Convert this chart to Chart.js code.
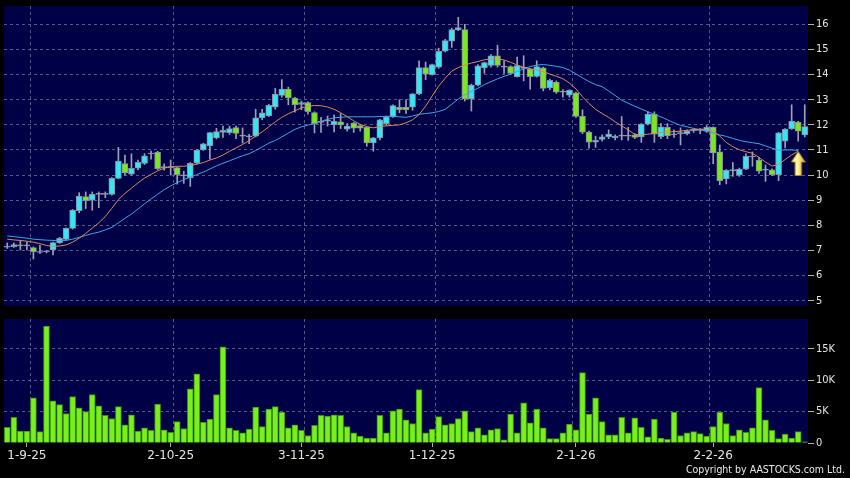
<!DOCTYPE html>
<html><head><meta charset="utf-8">
<script src="https://cdn.jsdelivr.net/npm/chart.js@4/dist/chart.umd.min.js"></script>
<style>
html,body{margin:0;padding:0;background:#000;width:850px;height:478px;overflow:hidden}
#wrap{position:relative;width:850px;height:478px;background:#000}
#c1{position:absolute;left:0;top:0;width:850px;height:310px}
#c2{position:absolute;left:0;top:310px;width:850px;height:168px}
#copy{position:absolute;right:5px;top:463px;color:#e8e8e8;font:10.5px "DejaVu Sans Condensed","DejaVu Sans",sans-serif;white-space:nowrap}
</style></head><body>
<div id="wrap">
<canvas id="c1" width="850" height="310"></canvas>
<canvas id="c2" width="850" height="168"></canvas>
<div id="copy">Copyright by AASTOCKS.com Ltd.</div>
</div>
<script>
// ---- data ----
const openP = [7.13,7.15,7.18,7.18,7.12,6.92,6.95,7.02,7.31,7.44,
7.88,8.58,9.14,9.0,9.23,9.23,9.23,9.87,10.46,10.04,
10.28,10.46,10.84,10.92,10.3,10.3,10.3,9.97,9.89,10.47,
11.0,11.16,11.48,11.7,11.69,11.89,11.55,11.52,11.55,12.28,
12.36,12.7,13.17,13.42,13.07,12.81,12.89,12.49,12.1,12.15,
12.0,12.12,11.83,12.07,11.97,11.9,11.28,11.48,12.05,12.32,
12.7,12.7,12.7,13.23,14.28,14.0,14.3,14.93,15.33,15.78,
15.79,13.03,13.58,14.27,14.37,14.75,14.3,14.32,13.92,14.25,
14.22,13.93,14.27,13.47,13.7,13.3,13.18,13.27,12.34,11.71,
11.31,11.42,11.52,11.48,11.55,11.55,11.6,11.52,12.03,12.43,
11.53,11.9,11.6,11.65,11.65,11.77,11.78,11.75,11.9,10.93,
9.85,10.17,10.0,10.24,10.72,10.6,10.2,10.21,10.02,11.35,
11.84,12.11,11.6];
const highP = [7.3,7.3,7.4,7.33,7.14,7.2,7.0,7.33,7.52,7.9,
8.63,9.3,9.33,9.33,9.33,9.33,9.9,11.1,10.8,10.85,
10.6,10.85,10.96,10.95,10.45,10.6,10.32,10.15,10.5,11.02,
11.27,11.7,11.86,11.95,11.95,11.95,11.88,11.62,12.62,12.62,
12.82,13.45,13.8,13.5,13.1,12.95,12.92,12.52,12.3,12.35,
12.4,12.45,12.05,12.1,12.0,11.92,11.5,12.22,12.35,12.8,
13.0,13.0,13.25,14.55,14.5,14.42,15.05,15.4,15.85,16.28,
16.0,13.62,14.4,14.5,14.8,15.17,14.55,14.35,14.7,14.75,
14.25,14.55,14.3,13.82,13.75,13.4,13.4,13.3,12.6,11.75,
11.55,11.6,11.8,11.6,12.33,11.9,11.65,12.05,12.52,12.52,
12.05,12.05,11.8,11.88,11.8,11.85,11.85,11.97,11.92,11.2,
10.22,10.5,10.28,10.85,10.92,10.7,10.4,10.25,11.7,11.85,
12.8,12.14,12.8];
const lowP = [7.08,7.12,7.02,7.02,6.66,6.88,6.9,6.82,7.28,7.42,
7.85,8.5,8.67,8.6,8.7,9.1,9.2,9.85,10.0,10.0,
10.22,10.42,10.63,10.22,10.2,10.0,9.64,9.67,9.55,10.45,
10.98,10.63,11.44,11.5,11.62,11.45,11.27,11.25,11.52,12.2,
12.33,12.62,13.1,12.8,12.5,12.6,12.42,11.68,11.7,11.95,
11.72,11.85,11.75,11.7,11.75,11.15,10.95,11.4,11.98,12.3,
12.48,12.45,12.58,13.2,13.8,13.98,14.25,14.9,15.08,15.75,
12.95,12.55,13.55,14.05,14.3,14.3,14.05,14.0,13.9,13.75,
13.42,13.9,13.35,13.4,13.25,13.1,13.1,12.3,11.65,11.07,
11.1,11.35,11.45,11.4,11.4,11.38,11.45,11.3,12.0,11.3,
11.45,11.45,11.5,11.2,11.6,11.7,11.65,11.7,10.45,9.62,
9.65,9.95,9.95,10.22,10.35,10.07,9.75,9.98,9.78,11.08,
11.82,11.35,11.52];
const closeP = [7.13,7.23,7.18,7.18,6.95,6.92,6.95,7.31,7.48,7.88,
8.61,9.16,8.98,9.23,9.23,9.23,9.87,10.56,10.09,10.27,
10.51,10.77,10.84,10.26,10.3,10.3,10.02,9.97,10.47,11.0,
11.24,11.69,11.73,11.78,11.85,11.66,11.55,11.52,12.28,12.48,
12.78,13.22,13.42,13.07,12.8,12.89,12.52,12.05,12.1,12.15,
12.14,12.0,11.95,11.87,11.87,11.28,11.48,12.2,12.32,12.77,
12.6,12.6,13.23,14.28,14.02,14.4,14.93,15.35,15.79,15.87,
13.03,13.58,14.35,14.48,14.75,14.37,14.3,14.05,14.36,14.25,
13.92,14.32,13.45,13.77,13.3,13.3,13.37,12.34,11.71,11.31,
11.38,11.52,11.63,11.55,11.55,11.55,11.5,12.03,12.43,11.63,
11.92,11.57,11.6,11.65,11.75,11.77,11.78,11.9,10.88,9.78,
10.19,10.22,10.24,10.75,10.72,10.16,10.23,10.02,11.68,11.83,
12.15,11.75,11.93];
const maShort = [7.45,7.42,7.4,7.37,7.33,7.27,7.2,7.16,7.18,7.22,
7.33,7.49,7.68,7.89,8.1,8.35,8.68,9.02,9.27,9.48,
9.69,9.88,10.03,10.17,10.27,10.34,10.35,10.35,10.39,10.43,
10.5,10.6,10.68,10.8,10.95,11.08,11.22,11.37,11.55,11.72,
11.92,12.12,12.3,12.44,12.56,12.68,12.74,12.77,12.76,12.71,
12.62,12.48,12.33,12.16,12.02,11.93,11.88,11.93,11.96,11.98,
12.0,12.08,12.2,12.41,12.74,13.15,13.54,13.86,14.14,14.28,
14.38,14.46,14.52,14.59,14.62,14.63,14.58,14.49,14.38,14.29,
14.23,14.19,14.12,14.02,13.93,13.84,13.66,13.43,13.12,12.85,
12.62,12.45,12.3,12.12,11.96,11.8,11.62,11.6,11.63,11.66,
11.69,11.72,11.73,11.75,11.78,11.81,11.83,11.82,11.74,11.55,
11.3,11.13,11.01,10.93,10.87,10.7,10.52,10.36,10.42,10.62,
10.8,10.95,null];
const maLong = [7.58,7.55,7.52,7.49,7.45,7.43,7.41,7.4,7.4,7.4,
7.45,7.52,7.6,7.67,7.73,7.82,7.92,8.1,8.28,8.45,
8.65,8.86,9.05,9.24,9.42,9.57,9.7,9.82,9.92,10.02,
10.12,10.24,10.37,10.47,10.57,10.67,10.77,10.85,10.98,11.12,
11.27,11.38,11.52,11.67,11.82,11.92,11.99,12.06,12.14,12.22,
12.28,12.3,12.32,12.32,12.32,12.32,12.32,12.33,12.34,12.34,
12.32,12.3,12.35,12.42,12.45,12.48,12.53,12.62,12.82,13.03,
13.2,13.33,13.46,13.6,13.72,13.83,13.93,14.02,14.12,14.22,
14.32,14.38,14.4,14.37,14.33,14.28,14.18,14.03,13.87,13.72,
13.6,13.52,13.35,13.17,12.98,12.86,12.74,12.63,12.52,12.42,
12.32,12.2,12.08,11.98,11.92,11.86,11.8,11.74,11.68,11.6,
11.54,11.46,11.38,11.33,11.29,11.25,11.16,11.07,10.99,11.0,
11.0,10.98,null];
const volume = [2500,4100,1900,1900,7200,1800,18600,6700,6100,4700,
7400,5600,5000,7700,5900,4400,3900,5800,2900,4500,
1900,2400,2000,6200,2100,1700,3400,2300,8600,11000,
3300,3800,7700,15300,2400,2000,1600,2200,5700,2600,
5400,5800,4900,2400,2900,2000,1200,2800,4400,4300,
4500,4400,2600,1600,1100,800,800,4400,1600,5100,
5400,3700,3100,8500,1600,2200,4200,2900,3100,3900,
5100,1800,2400,1300,2100,2300,500,4600,1600,6400,
3200,5400,2400,700,700,1600,3000,2100,11200,4600,
7200,3400,1300,1300,4100,1600,4000,2500,1000,3800,
800,600,4900,1200,1600,1800,1500,1100,2600,4900,
3100,1200,2100,1700,2400,8800,3700,2000,700,1400,
800,1800,200];
const tickPos = [3,25,45,65,87,108];
const tickText = ['1-9-25','2-10-25','3-11-25','1-12-25','2-1-26','2-2-26'];
const gridPos = [4,26,46,66,87,108];
const signalIdx = [121];
const signalVal = [10.46];
const priceTicks = [5,6,7,8,9,10,11,12,13,14,15,16];
const volTicks = [0,5000,10000,15000];

// ---- styles ----
const NAVY = '#000046';
const GRID = '#56568a';
const UP = '#36e6f2';
const DOWN = '#7ae81e';
const DOJI = '#a0a0b4';
const EDGE = '#8c8ca4';
const TXT = '#e4e4e4';
Chart.defaults.font.family = '"DejaVu Sans", sans-serif';
Chart.defaults.color = TXT;

const labels = openP.map((_, i) => String(i));
const areaBg = { id: 'areaBg', beforeDraw(chart) {
  const {ctx, chartArea: a} = chart;
  ctx.save(); ctx.fillStyle = NAVY;
  ctx.fillRect(a.left, a.top, a.right - a.left, a.bottom - a.top);
  ctx.restore();
}};
const fixY = s => { s.width = 42; s.paddingTop = 0; s.paddingBottom = 0; };

// arrow marker image
const arrowImg = document.createElement('canvas');
arrowImg.width = 15; arrowImg.height = 25;
(() => {
  const ac = arrowImg.getContext('2d');
  const g = ac.createLinearGradient(0, 0, 15, 0);
  g.addColorStop(0, '#ffe060'); g.addColorStop(0.45, '#fff8b0'); g.addColorStop(1, '#e09a00');
  ac.fillStyle = g;
  ac.beginPath();
  ac.moveTo(7.5, 0.5); ac.lineTo(14.5, 11); ac.lineTo(10.8, 11); ac.lineTo(10.8, 24.5);
  ac.lineTo(4.2, 24.5); ac.lineTo(4.2, 11); ac.lineTo(0.5, 11); ac.closePath();
  ac.fill();
  ac.strokeStyle = '#b88000'; ac.lineWidth = 0.8; ac.stroke();
})();
const arrowData = labels.map(() => null);
signalIdx.forEach((k, j) => { arrowData[k] = signalVal[j]; });

const bodyColors = openP.map((o, i) => closeP[i] > o ? UP : (closeP[i] < o ? DOWN : DOJI));

new Chart(document.getElementById('c1'), {
  type: 'bar',
  data: {
    labels,
    datasets: [
      { type: 'line', data: arrowData, showLine: false, pointStyle: arrowImg, pointRadius: 1, borderWidth: 0, order: 0 },
      { type: 'line', data: maShort, borderColor: '#d98a5c', borderWidth: 1, pointRadius: 0, tension: 0, order: 1 },
      { type: 'line', data: maLong, borderColor: '#3ca6e6', borderWidth: 1, pointRadius: 0, tension: 0, order: 1 },
      { data: openP.map((o, i) => [o, closeP[i]]), backgroundColor: bodyColors, borderColor: EDGE,
        borderWidth: 1, borderSkipped: false, barThickness: 6, minBarLength: 1, grouped: false, order: 2 },
      { data: highP.map((h, i) => [lowP[i], h]), backgroundColor: DOJI, borderWidth: 0,
        barThickness: 1, grouped: false, order: 3 }
    ]
  },
  options: {
    responsive: false, animation: false, devicePixelRatio: 1,
    layout: { autoPadding: false, padding: { left: 4, top: 6, right: 0, bottom: 4 } },
    plugins: { legend: { display: false }, tooltip: { enabled: false } },
    scales: {
      x: {
        offset: true,
        ticks: { display: false, autoSkip: false },
        grid: { offset: true, drawTicks: false, lineWidth: 1,
          color: c => gridPos.includes(c.index) ? GRID : 'transparent' },
        border: { display: false, dash: [3, 3] },
        afterFit: s => { s.height = 0; s.paddingLeft = 0; s.paddingRight = 0; }
      },
      y: {
        position: 'right', min: 4.79, max: 16.73,
        afterBuildTicks: s => { s.ticks = priceTicks.map(v => ({ value: v })); },
        ticks: { padding: 2, font: { size: 11, family: '"DejaVu Sans Condensed", "DejaVu Sans", sans-serif' }, color: TXT },
        grid: { color: GRID, tickColor: '#b0b0b0', tickLength: 6, lineWidth: 1 },
        border: { display: false, dash: [3, 3] },
        afterFit: fixY
      }
    }
  },
  plugins: [areaBg]
});

new Chart(document.getElementById('c2'), {
  type: 'bar',
  data: {
    labels,
    datasets: [
      { data: volume, backgroundColor: '#78f01e', borderColor: '#3c8c10', borderWidth: 1,
        barThickness: 6 }
    ]
  },
  options: {
    responsive: false, animation: false, devicePixelRatio: 1,
    layout: { autoPadding: false, padding: { left: 4, top: 9, right: 0, bottom: 0 } },
    plugins: { legend: { display: false }, tooltip: { enabled: false } },
    scales: {
      x: {
        offset: true,
        ticks: { autoSkip: false, maxRotation: 0, padding: 2, font: { size: 12 }, color: TXT,
          callback: (v, i) => { const k = tickPos.indexOf(i); return k >= 0 ? tickText[k] : ''; } },
        grid: { offset: false, drawOnChartArea: false, drawTicks: true, tickLength: 4,
          tickColor: c => tickPos.includes(c.index) ? '#b0b0b0' : 'transparent', color: 'transparent' },
        border: { display: false },
        afterFit: s => { s.height = 35; s.paddingLeft = 0; s.paddingRight = 0; }
      },
      x2: {
        type: 'category', position: 'bottom', offset: true,
        ticks: { display: false, autoSkip: false },
        grid: { offset: true, drawTicks: false,
          color: c => gridPos.includes(c.index) ? GRID : 'transparent' },
        border: { display: false, dash: [3, 3] },
        afterFit: s => { s.height = 0; }
      },
      y: {
        position: 'right', min: 0, max: 19730,
        afterBuildTicks: s => { s.ticks = volTicks.map(v => ({ value: v })); },
        ticks: { padding: 2, font: { size: 11, family: '"DejaVu Sans Condensed", "DejaVu Sans", sans-serif' }, color: TXT,
          callback: v => v === 0 ? '0' : (v / 1000) + 'K' },
        grid: { color: c => c.tick && c.tick.value === 0 ? 'transparent' : GRID,
          tickColor: '#b0b0b0', tickLength: 6 },
        border: { display: false, dash: [3, 3] },
        afterFit: fixY
      }
    }
  },
  plugins: [areaBg]
});
</script>
</body></html>
